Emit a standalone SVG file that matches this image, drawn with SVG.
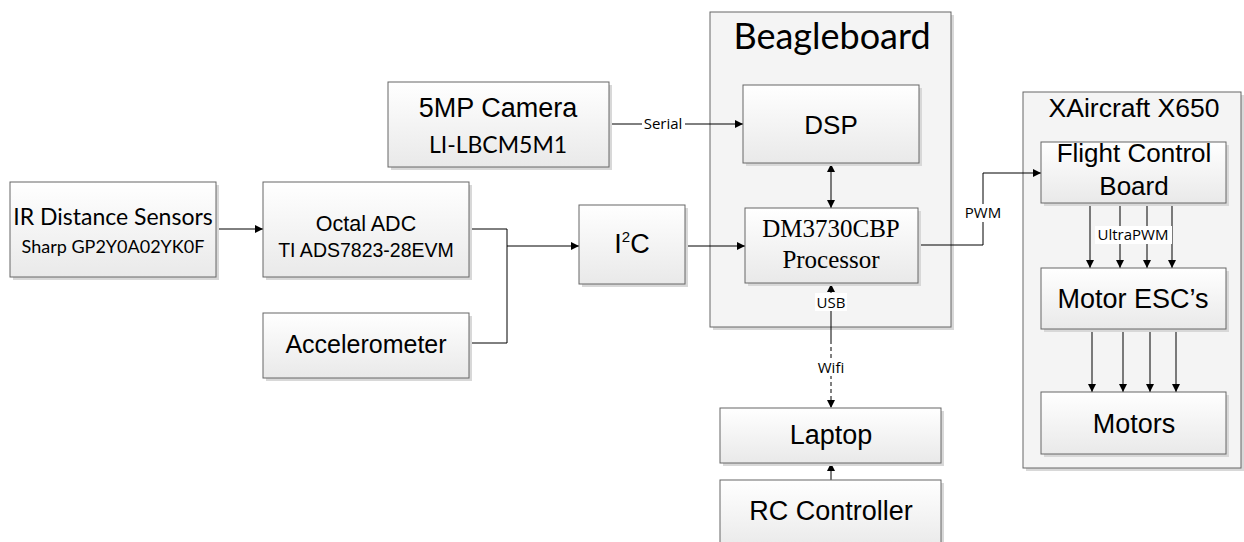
<svg xmlns="http://www.w3.org/2000/svg" width="1244" height="542" viewBox="0 0 1244 542">
<defs>
<linearGradient id="g" x1="0" y1="0" x2="0" y2="1">
<stop offset="0" stop-color="#ffffff"/>
<stop offset="1" stop-color="#e9e9e9"/>
</linearGradient>
<marker id="ah" viewBox="0 0 10 10" refX="10" refY="5" markerWidth="8" markerHeight="8" markerUnits="userSpaceOnUse" orient="auto-start-reverse">
<path d="M0,0 L10,5 L0,10 z" fill="#000"/>
</marker>
</defs>
<style>
.box{fill:url(#g);stroke:#666;stroke-width:1}
.cont{fill:#f4f4f4;stroke:#666;stroke-width:1}
.sh{fill:#d8d8d8}
.ln{fill:none;stroke:#000;stroke-width:1}
.arr{fill:none;stroke:#000;stroke-width:1;marker-end:url(#ah)}
.a{font-family:"Liberation Sans",Arial,sans-serif;fill:#000;text-anchor:middle}
.c{font-family:Lato,"Open Sans",sans-serif;fill:#000;text-anchor:middle}
.t{font-family:"Liberation Serif","Times New Roman",serif;fill:#000;text-anchor:middle}
.lbl{font-family:"Open Sans",sans-serif;font-size:15px;fill:#000;text-anchor:middle}
</style>
<rect width="1244" height="542" fill="#fff"/>

<g id="beagleboard">
<rect class="sh" x="713" y="15" width="241" height="315"/>
<rect class="cont" x="710" y="12" width="241" height="315"/>
<text class="c" x="832" y="49" font-size="36">Beagleboard</text>
</g>
<g id="xaircraft">
<rect class="sh" x="1026" y="95" width="218" height="376"/>
<rect class="cont" x="1023" y="92" width="218" height="376"/>
<text class="a" x="1134" y="117" font-size="26.5">XAircraft X650</text>
</g>

<g id="connectors">
<line class="arr" x1="216" y1="229" x2="263" y2="229"/>
<polyline class="ln" points="469,229 507,229 507,343 469,343"/>
<line class="arr" x1="507" y1="246" x2="579" y2="246"/>
<line class="arr" x1="685" y1="246" x2="745" y2="246"/>
<line class="arr" x1="609" y1="124" x2="743" y2="124"/>
<line class="arr" x1="831" y1="186" x2="831" y2="164"/>
<line class="arr" x1="831" y1="186" x2="831" y2="208"/>
<line class="arr" x1="831" y1="327" x2="831" y2="284"/>
<line class="ln" x1="831" y1="327" x2="831" y2="340"/>
<line class="arr" x1="831" y1="340" x2="831" y2="408" stroke-dasharray="4,3"/>
<line class="arr" x1="831" y1="480" x2="831" y2="463"/>
<polyline class="arr" points="918,245 983,245 983,173 1041,173"/>
<line class="arr" x1="1090" y1="203" x2="1090" y2="268"/>
<line class="arr" x1="1120" y1="203" x2="1120" y2="268"/>
<line class="arr" x1="1147" y1="203" x2="1147" y2="268"/>
<line class="arr" x1="1172" y1="203" x2="1172" y2="268"/>
<line class="arr" x1="1092" y1="329" x2="1092" y2="392"/>
<line class="arr" x1="1123" y1="329" x2="1123" y2="392"/>
<line class="arr" x1="1150" y1="329" x2="1150" y2="392"/>
<line class="arr" x1="1176" y1="329" x2="1176" y2="392"/>
<rect x="642" y="115" width="43" height="18" fill="#fff"/>
<text class="lbl" x="663" y="129">Serial</text>
<rect x="963" y="204" width="40" height="18" fill="#fff"/>
<text class="lbl" x="983" y="218">PWM</text>
<rect x="815" y="293" width="32" height="18" fill="#fff"/>
<text class="lbl" x="831" y="308">USB</text>
<rect x="816" y="358" width="30" height="18" fill="#fff"/>
<text class="lbl" x="831" y="373">Wifi</text>
<rect x="1095" y="226" width="77" height="18" fill="#fff"/>
<text class="lbl" x="1133" y="240">UltraPWM</text>
</g>

<g id="ir">
<rect class="sh" x="13" y="185" width="206" height="95"/>
<rect class="box" x="10" y="182" width="206" height="95"/>
<text class="c" x="113" y="225" font-size="23">IR Distance Sensors</text>
<text class="c" x="113" y="253" font-size="18">Sharp GP2Y0A02YK0F</text>
</g>
<g id="adc">
<rect class="sh" x="266" y="185" width="206" height="95"/>
<rect class="box" x="263" y="182" width="206" height="95"/>
<text class="a" x="366" y="231" font-size="21.5">Octal ADC</text>
<text class="a" x="366" y="257" font-size="19.5">TI ADS7823-28EVM</text>
</g>
<g id="accel">
<rect class="sh" x="266" y="316" width="206" height="65"/>
<rect class="box" x="263" y="313" width="206" height="65"/>
<text class="a" x="366" y="353" font-size="25">Accelerometer</text>
</g>
<g id="camera">
<rect class="sh" x="391" y="85" width="221" height="85"/>
<rect class="box" x="388" y="82" width="221" height="85"/>
<text class="a" x="498" y="117" font-size="27">5MP Camera</text>
<text class="c" x="498" y="153" font-size="23">LI-LBCM5M1</text>
</g>
<g id="i2c">
<rect class="sh" x="582" y="208" width="106" height="79"/>
<rect class="box" x="579" y="205" width="106" height="79"/>
<text class="a" x="632" y="253" font-size="27">I<tspan font-size="15" dy="-11">2</tspan><tspan dy="11">C</tspan></text>
</g>
<g id="dsp">
<rect class="sh" x="746" y="88" width="176" height="78"/>
<rect class="box" x="743" y="85" width="176" height="78"/>
<text class="a" x="831" y="134" font-size="26">DSP</text>
</g>
<g id="processor">
<rect class="sh" x="748" y="211" width="173" height="75"/>
<rect class="box" x="745" y="208" width="173" height="75"/>
<text class="t" x="831" y="237" font-size="25">DM3730CBP</text>
<text class="t" x="831" y="268" font-size="25">Processor</text>
</g>
<g id="laptop">
<rect class="sh" x="723" y="411" width="221" height="55"/>
<rect class="box" x="720" y="408" width="221" height="55"/>
<text class="a" x="831" y="444" font-size="27">Laptop</text>
</g>
<g id="rc">
<rect class="sh" x="723" y="483" width="221" height="70"/>
<rect class="box" x="720" y="480" width="221" height="70"/>
<text class="a" x="831" y="520" font-size="27">RC Controller</text>
</g>
<g id="fcb">
<rect class="sh" x="1044" y="145" width="185" height="61"/>
<rect class="box" x="1041" y="142" width="185" height="61"/>
<text class="a" x="1134" y="162" font-size="26">Flight Control</text>
<text class="a" x="1134" y="195" font-size="26">Board</text>
</g>
<g id="esc">
<rect class="sh" x="1044" y="271" width="185" height="61"/>
<rect class="box" x="1041" y="268" width="185" height="61"/>
<text class="a" x="1133" y="308" font-size="27">Motor ESC’s</text>
</g>
<g id="motors">
<rect class="sh" x="1044" y="395" width="185" height="62"/>
<rect class="box" x="1041" y="392" width="185" height="62"/>
<text class="a" x="1134" y="433" font-size="27">Motors</text>
</g>
</svg>
